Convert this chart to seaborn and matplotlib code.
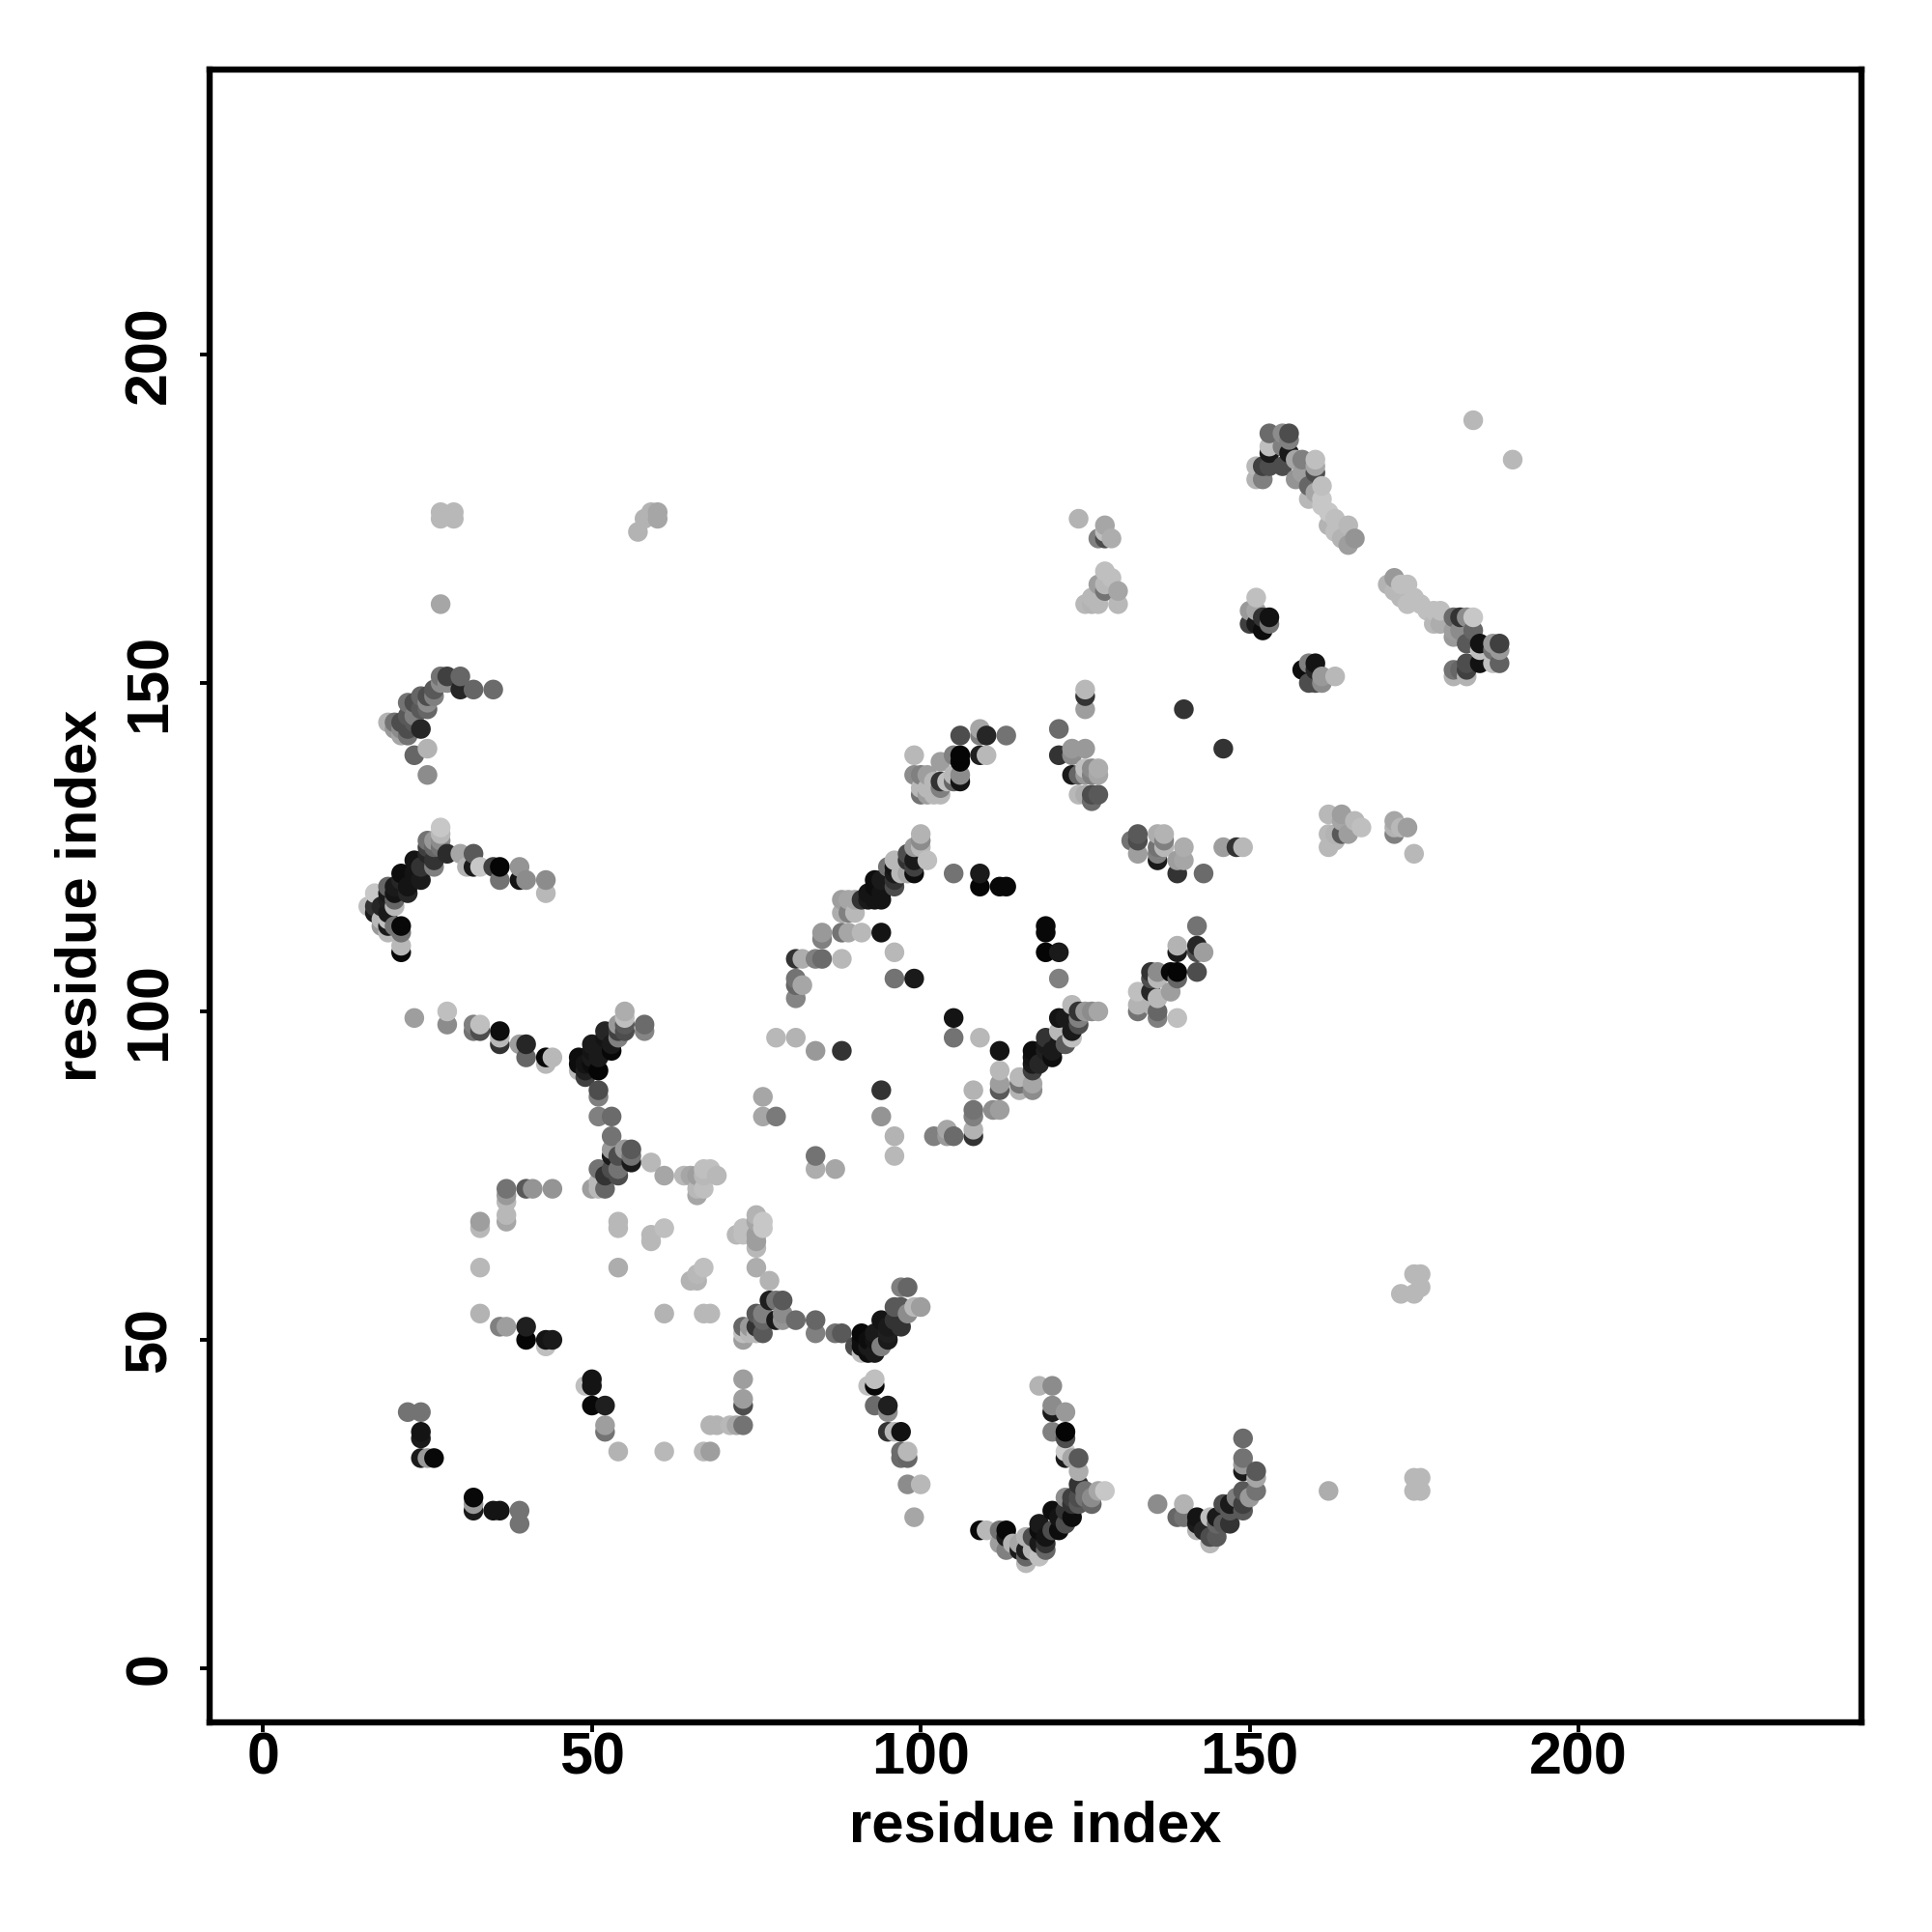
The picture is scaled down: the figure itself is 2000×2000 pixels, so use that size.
import pandas as pd
import matplotlib
matplotlib.use("Agg")
import matplotlib.pyplot as plt
import seaborn as sns

# (residue i, residue j, grey level), one list per blob
low_left = [(22,39,.45),(24,39,.45),(24,36,.08),(24,35,.1),(24,32,.1),(25,32,.6),(26,32,.03),
    (32,26,.03),(32,25,.6),(32,24,.1),(35,24,.08),(36,24,.08),(39,24,.45),(39,22,.45),
    (33,54,.7),(36,52,.5),(37,52,.62),(40,52,.12),(40,50,.02),(43,49,.75),(43,50,.08),(44,50,.1),
    (33,61,.72),(33,67,.72),(33,68,.62),(37,68,.65),(37,69,.72),(37,71,.72),(37,72,.6),(37,73,.45),
    (40,73,.35),(41,73,.58),(44,73,.58)]
stem_50 = [(50,73,.62),(51,73,.72),(52,73,.4),(51,74,.72),(51,76,.45),(52,75,.2),(54,75,.3),
    (53,76,.3),(54,76,.45),(56,77,.1),(56,78,.45),(53,78,.1),(54,78,.3),(53,79,.6),(55,79,.6),(56,79,.35),
    (53,81,.45),(51,84,.5),(53,84,.42),(51,87,.5),(51,88,.3),(59,77,.72),
    (49,43,.75),(50,44,.08),(50,43,.08),(50,40,.03),(52,40,.12),(52,36,.45),(52,37,.62),
    (54,33,.7),(61,33,.72),(67,33,.72),(68,33,.62)]
light_patch = [(61,75,.65),(64,75,.72),(65,75,.65),(66,75,.62),(67,76,.75),(68,76,.75),(69,75,.72),(67,75,.72),
    (66,72,.65),(66,73,.72),(67,73,.75),(54,68,.72),(54,67,.72),(54,61,.68),(61,67,.75),(59,65,.72),(59,66,.72),
    (67,61,.75),(66,60,.72),(65,59,.7),(66,59,.7),(61,54,.7),(67,54,.72),(68,54,.72),
    (72,66,.72),(73,67,.75),(73,66,.75),(75,69,.7),(75,68,.65),(75,66,.62),(75,65,.62),(75,64,.72),
    (76,68,.78),(76,67,.78),(75,61,.68),(77,59,.7)]
mid_low = [(77,56,.12),(78,56,.45),(79,56,.35),(75,54,.35),(76,54,.5),(79,54,.55),(78,53,.1),(79,53,.58),
    (73,52,.4),(74,52,.6),(76,51,.35),(75,52,.2),(76,53,.4),(73,50,.62),(73,51,.75),(74,51,.72),(75,51,.72),
    (81,53,.42),(84,53,.4),(84,51,.5),(87,51,.45),(88,51,.35),(84,76,.68),(84,78,.45),(87,76,.65),
    (73,44,.62),(73,41,.62),(73,40,.3),(73,37,.45),(68,37,.7),(69,37,.7),(71,37,.72),(72,37,.65)]
v_cluster = [(97,58,.5),(98,58,.4),(100,55,.62),(99,55,.72),(97,55,.35),(98,54,.55),(97,52,.2),(96,53,.2),
    (94,53,.08),(95,51,.12),(95,50,.1),(96,55,.35),(95,52,.1),(93,51,.1),(91,51,.03),(91,50,.05),(92,50,.05),
    (93,50,.08),(90,49,.3),(91,48,.75),(92,48,.05),(93,48,.1),(91,49,.05),(92,49,.1),(94,49,.5),
    (93,44,.75),(92,43,.75),(93,43,.03),(93,40,.42),(95,40,.12),(95,39,.55),(95,36,.2),(96,36,.72),(97,36,.07),
    (97,33,.42),(98,33,.72),(97,32,.42),(98,32,.4),(98,28,.55),(100,28,.72),(99,23,.65)]
arc_bottom = [(109,21,.03),(110,21,.72),(112,21,.45),(113,21,.03),(112,19,.62),(113,20,.1),(113,18,.5),(114,19,.7),
    (115,19,.65),(115,18,.1),(116,20,.7),(116,18,.12),(116,17,.4),(116,16,.72),(118,17,.75),(117,18,.7),(117,20,.3),
    (118,19,.1),(119,19,.2),(118,22,.1),(118,21,.05),(119,18,.4),(119,20,.08),(120,21,.3),(121,21,.05),(120,24,.05),
    (121,23,.08),(122,22,.3),(123,23,.05),(122,24,.2),(122,26,.55),(123,26,.25),(123,25,.2),(124,25,.35),(124,28,.2),
    (124,26,.3),(125,27,.45),(125,26,.45),(126,25,.4),(126,26,.55),(127,27,.65),(128,27,.78),
    (118,43,.7),(120,43,.55),(120,40,.55),(120,39,.1),(122,39,.6),(120,36,.5),(122,36,.02),(122,35,.3),
    (122,33,.8),(122,32,.1),(123,32,.65),(124,32,.35),(124,30,.68)]
arc_140 = [(136,25,.55),(140,25,.7),(139,23,.4),(140,23,.45),(142,23,.08),(144,23,.75),(142,22,.1),(142,21,.7),
    (143,21,.15),(144,19,.72),(144,20,.3),(145,20,.35),(145,22,.4),(145,23,.1),(146,22,.35),(147,22,.2),(146,25,.3),
    (147,24,.35),(147,25,.1),(148,26,.5),(149,24,.35),(149,25,.25),(150,26,.6),(151,27,.45),(149,27,.35),(151,30,.35),
    (149,30,.1),(149,31,.6),(149,32,.45),(149,35,.42),(151,29,.65),
    (162,27,.68),(175,29,.72),(176,29,.72),(175,27,.72),(176,27,.72),
    (173,57,.72),(175,57,.72),(176,58,.72),(175,60,.72),(176,60,.72)]
hook_left = [(25,136,.55),(23,139,.4),(25,140,.7),(27,128,.78),(27,127,.72),(27,126,.55),(25,126,.45),(26,126,.6),
    (25,125,.25),(26,125,.4),(27,125,.45),(25,124,.15),(26,123,.2),(26,122,.5),(28,124,.17),(30,124,.65),(32,124,.35),
    (32,122,.1),(31,122,.7),(33,122,.78),(35,122,.25),(36,122,.02),(36,120,.45),(39,122,.58),(39,120,.08),(40,120,.55),
    (43,120,.55),(43,118,.72),(23,123,.08),(24,122,.2),(23,121,.08),(24,120,.1),(21,121,.05),(21,120,.15),(22,119,.08),
    (22,118,.15),(20,119,.1),(19,119,.4),(20,118,.08),(19,118,.1),(20,117,.4),(19,117,.12),(20,116,.72),(17,118,.78),
    (16,116,.75),(17,116,.2),(17,115,.1),(18,116,.15),(19,115,.1),(18,114,.72),(19,114,.75),(18,113,.6),(19,112,.72),
    (19,113,.1),(20,113,.45),(21,113,.03),(21,112,.45),(21,110,.72),(21,109,.03)]
hook_top = [(19,144,.7),(20,144,.45),(20,143,.6),(21,144,.3),(21,143,.55),(21,142,.65),(22,145,.35),(22,143,.3),(22,142,.45),(22,147,.45),(23,147,.3),
    (23,144,.35),(23,145,.5),(24,143,.15),(24,146,.35),(24,148,.4),(25,148,.3),(25,146,.4),(25,147,.55),(26,149,.35),(26,148,.5),
    (27,151,.45),(27,150,.55),(28,151,.25),(28,150,.55),(30,151,.4),(30,149,.15),(32,149,.4),(35,149,.42),
    (27,162,.65),(27,176,.72),(27,175,.72),(29,176,.72),(29,175,.72),
    (57,173,.7),(58,175,.7),(59,176,.7),(60,175,.65),(60,176,.65)]
y_cluster = [(23,99,.62),(28,100,.75),(28,98,.55),(32,98,.5),(32,97,.45),(33,97,.3),(33,98,.75),(36,97,.05),(36,96,.72),
    (36,95,.2),(39,95,.62),(40,95,.15),(40,93,.4),(43,93,.03),(43,92,.72),(44,93,.72),(48,93,.05),(48,92,.05),(48,91,.72),
    (49,92,.08),(49,91,.12),(49,90,.25),(50,95,.1),(50,94,.08),(50,93,.1),(50,92,.05),(51,91,.02),(51,93,.1),(52,97,.15),
    (52,96,.08),(52,95,.1),(52,94,.1),(53,94,.03),(53,95,.1),(54,96,.5),(54,97,.25),(54,98,.6),(55,97,.3),(55,98,.35),
    (55,99,.75),(55,100,.68),(58,98,.42),(58,97,.52)]
mid_top = [(125,146,.62),(125,148,.2),(125,149,.72),(140,146,.2),(146,140,.2),(121,143,.42),(121,139,.2),(123,140,.6),
    (123,139,.55),(125,140,.6),(123,136,.1),(124,136,.4),(125,136,.6),(126,137,.55),(127,137,.68),(126,136,.5),(127,136,.65),
    (125,137,.75),(124,133,.72),(126,133,.3),(127,133,.35),(126,132,.42),(125,133,.68),
    (99,139,.72),(103,138,.62),(105,139,.5),(106,139,.02),(106,138,.02),(109,139,.12),(110,139,.72),(106,142,.3),
    (109,143,.65),(109,142,.5),(110,142,.15),(113,142,.45),(99,136,.55),(100,136,.5),(101,136,.62),(100,133,.45),
    (101,133,.62),(102,133,.72),(103,133,.72),(100,134,.72),(101,134,.72),(102,135,.72),(103,135,.2),(103,134,.5),
    (104,135,.75),(105,136,.72),(106,135,.08),(106,136,.55),(105,135,.4)]
diagonal = [(100,127,.7),(100,126,.55),(101,123,.75),(100,125,.72),(99,125,.6),(98,124,.3),(98,123,.2),(99,123,.1),
    (99,122,.25),(99,121,.05),(98,121,.65),(97,121,.72),(96,123,.72),(95,122,.45),(96,122,.08),(96,121,.1),(96,120,.2),
    (96,119,.3),(95,120,.1),(94,120,.1),(93,120,.05),(93,119,.05),(94,118,.08),(94,117,.08),(93,117,.08),(92,117,.1),
    (92,118,.08),(91,117,.2),(89,117,.65),(88,117,.62),(90,117,.65),(88,115,.68),(89,115,.5),(90,115,.72),(88,112,.45),
    (89,112,.65),(91,112,.72),(94,112,.08),(85,112,.6),(85,111,.5),(96,109,.72),(96,105,.45),(99,105,.1),(88,108,.72),
    (85,108,.42),(84,108,.5),(82,108,.68),(81,108,.2),(81,105,.45),(81,104,.4),(82,104,.65),(81,102,.52)]
ring = [(105,121,.45),(109,121,.1),(109,119,.02),(112,119,.03),(113,119,.03),(119,113,.03),(119,112,.03),(119,109,.02),
    (121,109,.1),(121,105,.5),(105,99,.08),(105,96,.45),(109,96,.72),(112,94,.08),(78,96,.72),(81,96,.7),(84,94,.6),(88,94,.2),
    (76,87,.65),(76,84,.65),(78,84,.48),(94,88,.2),(94,84,.58),(96,81,.7),(96,78,.72),
    (102,81,.5),(104,82,.65),(104,81,.6),(105,81,.42),(108,81,.2),(108,82,.7),(108,85,.45),(108,84,.5),(108,88,.7),
    (111,85,.55),(112,85,.62),(112,91,.72),(112,89,.62),(112,88,.35),(115,90,.72),(115,89,.45),(115,88,.7),
    (117,89,.65),(117,88,.55),(117,91,.25)]
diagonal_low = [(117,94,.05),(117,93,.08),(117,92,.1),(118,92,.15),(119,96,.2),(119,95,.1),(119,94,.12),(120,93,.05),
    (120,94,.1),(121,99,.08),(121,97,.72),(121,95,.1),(122,95,.35),(122,99,.1),(123,101,.72),(123,97,.1),(123,96,.75),
    (124,100,.2),(124,99,.5),(124,98,.3),(125,100,.6),(126,100,.55),(127,100,.65)]
right_mid = [(133,103,.75),(133,100,.45),(133,101,.7),(135,106,.2),(136,106,.55),(135,105,.3),(136,105,.72),(135,103,.15),
    (135,101,.7),(136,102,.72),(136,99,.5),(136,100,.4),(138,103,.62),(139,99,.75),(138,106,.03),(139,106,.02),(139,105,.4),
    (142,106,.3),(139,110,.7),(139,109,.1),(142,110,.15),(142,109,.3),(143,109,.62),(142,113,.45),
    (132,126,.45),(133,127,.35),(133,126,.3),(133,124,.62),(136,127,.68),(137,127,.7),(137,126,.5),(136,125,.45),(136,124,.5),
    (136,123,.1),(137,125,.72),(140,125,.68),(139,123,.62),(140,123,.65),(139,121,.2),(143,121,.42),
    (146,125,.62),(148,125,.2),(149,125,.72)]
top_mid = [(124,175,.7),(128,174,.65),(127,172,.5),(128,172,.3),(129,172,.68),(128,173,.75),(128,167,.75),(129,166,.75),
    (127,165,.62),(128,164,.45),(130,164,.65),(126,163,.72),(127,163,.72),(125,162,.72),(126,162,.7),(127,162,.72),(130,162,.72),
    (128,165,.72),(151,163,.75),(150,161,.6),(150,159,.25),(151,161,.65),(152,160,.2),(153,160,.07),(152,158,.05),(153,159,.45),
    (151,159,.1),(158,152,.05),(159,153,.5),(160,153,.08),(159,150,.3),(160,150,.3),(160,152,.15),(161,151,.6),(161,150,.55),(163,151,.72)]
strand_top = [(153,188,.42),(155,188,.55),(156,188,.3),(153,186,.75),(153,185,.1),(152,183,.25),(153,183,.3),(151,183,.72),
    (152,181,.5),(151,181,.7),(156,185,.1),(156,187,.5),(155,186,.5),(155,183,.3),(157,184,.65),(158,184,.5),(157,181,.58),
    (158,182,.62),(160,184,.75),(160,182,.3),(160,183,.65),(159,180,.4),(159,178,.72),(160,179,.65),(161,180,.75),(161,178,.78),
    (161,177,.78),(162,176,.78),(162,174,.7),(163,175,.75),(163,173,.75),(165,174,.72),(165,171,.62),(166,172,.58),(164,172,.7)]
strand_low = [(172,166,.6),(171,165,.7),(172,164,.72),(173,165,.75),(174,165,.75),(173,163,.72),(174,162,.75),(175,163,.75),
    (176,162,.75),(177,161,.75),(178,161,.75),(179,161,.75),(178,159,.72),(179,159,.68),(181,160,.42),(182,160,.2),(183,160,.55),
    (184,160,.78),(181,158,.62),(182,158,.55),(184,158,.4),(181,157,.6),(183,156,.35),(185,156,.07),(187,156,.6),(188,156,.25),
    (185,155,.75),(188,155,.6),(187,155,.45),(181,152,.45),(181,151,.7),(182,152,.4),(183,153,.3),(183,152,.25),(183,151,.7),
    (185,153,.07),(187,153,.75),(188,153,.38),(184,190,.72),(190,184,.72)]
far_right = [(162,130,.72),(164,130,.62),(166,129,.72),(167,128,.75),(164,129,.65),(165,127,.62),(164,127,.35),(162,127,.72),
    (163,127,.7),(162,125,.72),(163,126,.72),(172,129,.65),(172,127,.5),(173,128,.72),(174,128,.62),(175,124,.72),(172,128,.7)]

blobs = [low_left, stem_50, light_patch, mid_low, v_cluster, arc_bottom, arc_140, hook_left, hook_top, y_cluster,
         mid_top, diagonal, ring, diagonal_low, right_mid, top_mid, strand_top, strand_low, far_right]

tick_values = [0, 50, 100, 150, 200]

# points overlap in residue order, so sort before drawing
df = pd.DataFrame([row for blob in blobs for row in blob], columns=["i", "j", "shade"])
df = df.sort_values(["i", "j"]).reset_index(drop=True)

sns.set_style("white")
plt.rcParams["font.family"] = ["Liberation Sans", "DejaVu Sans"]
plt.rcParams["font.weight"] = "bold"

fig = plt.figure(figsize=(10, 10), dpi=200)
ax = fig.add_axes([0.1084, 0.10875, 0.855, 0.8553])

shades = {s: str(s) for s in df["shade"].unique()}
sns.scatterplot(data=df, x="i", y="j", hue="shade", palette=shades, s=54, linewidth=0, legend=False, ax=ax)

ax.set_xlim(-8.15, 243)
ax.set_ylim(-8.16, 243.4)
ax.set_xticks(tick_values)
ax.set_yticks(tick_values)
ax.tick_params(axis="both", bottom=True, left=True, length=3.5, width=1.4, color="black",
               labelsize=22, labelcolor="black", pad=0)
ax.tick_params(axis="y", pad=8)
plt.setp(ax.get_yticklabels(), rotation=90, va="center")
ax.set_xlabel("residue index", fontsize=21.5, fontweight="bold", color="black", labelpad=5)
ax.set_ylabel("residue index", fontsize=21.5, fontweight="bold", color="black", labelpad=6)
for spine in ax.spines.values():
    spine.set_linewidth(2.3)
    spine.set_color("black")

plt.savefig("out.png", dpi=200)
plt.close()
